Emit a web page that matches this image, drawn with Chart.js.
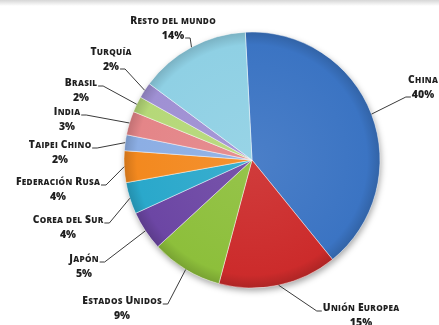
<!DOCTYPE html>
<html>
<head>
<meta charset="utf-8">
<script src="https://cdn.jsdelivr.net/npm/chart.js@4.4.0/dist/chart.umd.min.js"></script>
<style>
  html, body { margin: 0; padding: 0; background: #fff; }
  #wrap { position: relative; width: 439px; height: 325px; overflow: hidden; }
  #franja { position: absolute; left: 0; top: 0; width: 439px; height: 6px;
            background: linear-gradient(to bottom, #d6d6d6, #ffffff); }
  canvas { position: absolute; left: 0; top: 0; }
</style>
</head>
<body>
<div id="wrap">
  <canvas id="torta" width="439" height="325"></canvas>
  <div id="franja"></div>
</div>
<script>
// Regiones y su participación (%), en el orden de las porciones
const regiones = ["China", "Unión Europea", "Estados Unidos", "Japón", "Corea del Sur",
  "Federación Rusa", "Taipei Chino", "India", "Brasil", "Turquía", "Resto del mundo"];
const porcentajes = [40, 15, 9, 5, 4, 4, 2, 3, 2, 2, 14];
const colores = ["#3b74c3", "#cc2b2b", "#8dbf3b", "#6c46a4", "#2aa8cb",
  "#f3891f", "#8caee4", "#e48588", "#b5d878", "#9f90d3", "#8fd0e4"];

// Ubicación de cada rótulo: centro del nombre y lado desde el que sale la guía
// lado: "d" = derecha del nombre, "dp" = derecha del %, "i" = izquierda del nombre, "ip" = izquierda del %
const rotulos = [
  { x: 423, y: 79, lado: "ip" },
  { x: 361, y: 307, lado: "i" },
  { x: 122, y: 300, lado: "d" },
  { x: 84, y: 258, lado: "d" },
  { x: 68, y: 219, lado: "d" },
  { x: 58, y: 181, lado: "d" },
  { x: 60, y: 144, lado: "d" },
  { x: 67, y: 111, lado: "d" },
  { x: 81, y: 82, lado: "d" },
  { x: 111, y: 51, lado: "dp" },
  { x: 173, y: 20, lado: "dp" }
];

const FUENTE = "'Open Sans', 'DejaVu Sans', sans-serif";
const PESO = "800";

// Aclara (f > 0) u oscurece (f < 0) un color hex
function tono(hex, f) {
  const n = parseInt(hex.slice(1), 16);
  const canal = (v) => Math.round(f > 0 ? v + (255 - v) * f : v * (1 + f));
  return "rgb(" + canal(n >> 16) + "," + canal((n >> 8) & 255) + "," + canal(n & 255) + ")";
}

// Relleno con un leve volumen: centro más claro, borde más oscuro
function relleno(context) {
  const chart = context.chart;
  const area = chart.chartArea;
  const base = colores[context.dataIndex];
  if (!area) return base;
  const cx = (area.left + area.right) / 2;
  const cy = (area.top + area.bottom) / 2;
  const r = Math.min(area.right - area.left, area.bottom - area.top) / 2;
  const g = chart.ctx.createRadialGradient(cx, cy, 0, cx, cy, r);
  g.addColorStop(0, tono(base, 0.08));
  g.addColorStop(0.9, base);
  g.addColorStop(1, tono(base, -0.15));
  return g;
}

// Escribe un texto en versalitas centrado en (cx, cy); devuelve su ancho
function versalitas(ctx, texto, cx, cy, grande, chica, espacio) {
  const trozos = [];
  for (const c of texto) {
    const esMayus = c !== c.toLowerCase();
    const tam = esMayus ? grande : chica;
    ctx.font = PESO + " " + tam + "px " + FUENTE;
    const w = c === " " ? chica * 0.3 : ctx.measureText(c.toUpperCase()).width;
    trozos.push({ c: c.toUpperCase(), tam, w: w + espacio });
  }
  const ancho = trozos.reduce((s, t) => s + t.w, 0) - espacio;
  let x = cx - ancho / 2;
  ctx.textBaseline = "alphabetic";
  ctx.textAlign = "left";
  for (const t of trozos) {
    ctx.font = PESO + " " + t.tam + "px " + FUENTE;
    ctx.fillText(t.c, x, cy + grande * 0.36);
    x += t.w;
  }
  return ancho;
}

// Sombra suave bajo la torta
const sombra = {
  id: "sombra",
  beforeDatasetsDraw(chart) {
    const arc = chart.getDatasetMeta(0).data[0];
    const ctx = chart.ctx;
    ctx.save();
    ctx.shadowColor = "rgba(0,0,0,0.35)";
    ctx.shadowBlur = 6;
    ctx.shadowOffsetX = 1;
    ctx.shadowOffsetY = 3;
    ctx.fillStyle = "#fff";
    ctx.beginPath();
    ctx.arc(arc.x, arc.y, arc.outerRadius, 0, Math.PI * 2);
    ctx.fill();
    ctx.restore();
  }
};

// Nombres, porcentajes y líneas guía
const etiquetas = {
  id: "etiquetas",
  afterDatasetsDraw(chart) {
    const ctx = chart.ctx;
    const meta = chart.getDatasetMeta(0);
    ctx.save();
    meta.data.forEach((arc, i) => {
      const r = rotulos[i];
      ctx.fillStyle = "#1f1f1f";
      const anchoNombre = versalitas(ctx, regiones[i], r.x, r.y, 10.3, 8.2, 0.3);
      ctx.font = PESO + " 10.5px " + FUENTE;
      const pct = porcentajes[i] + "%";
      const anchoPct = ctx.measureText(pct).width;
      ctx.textAlign = "center";
      ctx.fillText(pct, r.x, r.y + 15 + 3.7);

      // punto de partida de la guía
      let sx, sy, dir;
      if (r.lado === "d") { sx = r.x + anchoNombre / 2 + 1; sy = r.y + 4; dir = 1; }
      else if (r.lado === "dp") { sx = r.x + anchoPct / 2 + 1; sy = r.y + 18; dir = 1; }
      else if (r.lado === "i") { sx = r.x - anchoNombre / 2 - 1; sy = r.y + 4; dir = -1; }
      else { sx = r.x - anchoPct / 2 - 1; sy = r.y + 18; dir = -1; }

      const medio = (arc.startAngle + arc.endAngle) / 2;
      const ax = arc.x + Math.cos(medio) * arc.outerRadius;
      const ay = arc.y + Math.sin(medio) * arc.outerRadius;

      ctx.strokeStyle = "#3a3a3a";
      ctx.lineWidth = 1;
      ctx.beginPath();
      ctx.moveTo(sx, sy);
      ctx.lineTo(sx + dir * 5, sy);
      ctx.lineTo(ax, ay);
      ctx.stroke();
    });
    ctx.restore();
  }
};

new Chart(document.getElementById("torta"), {
  type: "pie",
  data: {
    labels: regiones,
    datasets: [{
      data: porcentajes,
      backgroundColor: relleno,
      borderColor: "rgba(255,255,255,0.55)",
      borderWidth: 0.8,
      radius: 128,
      hoverOffset: 0
    }]
  },
  options: {
    responsive: false,
    animation: false,
    rotation: -3,
    layout: { padding: { left: 124, right: 59, top: 32, bottom: 37 } },
    plugins: { legend: { display: false }, tooltip: { enabled: false } }
  },
  plugins: [sombra, etiquetas]
});
</script>
</body>
</html>
